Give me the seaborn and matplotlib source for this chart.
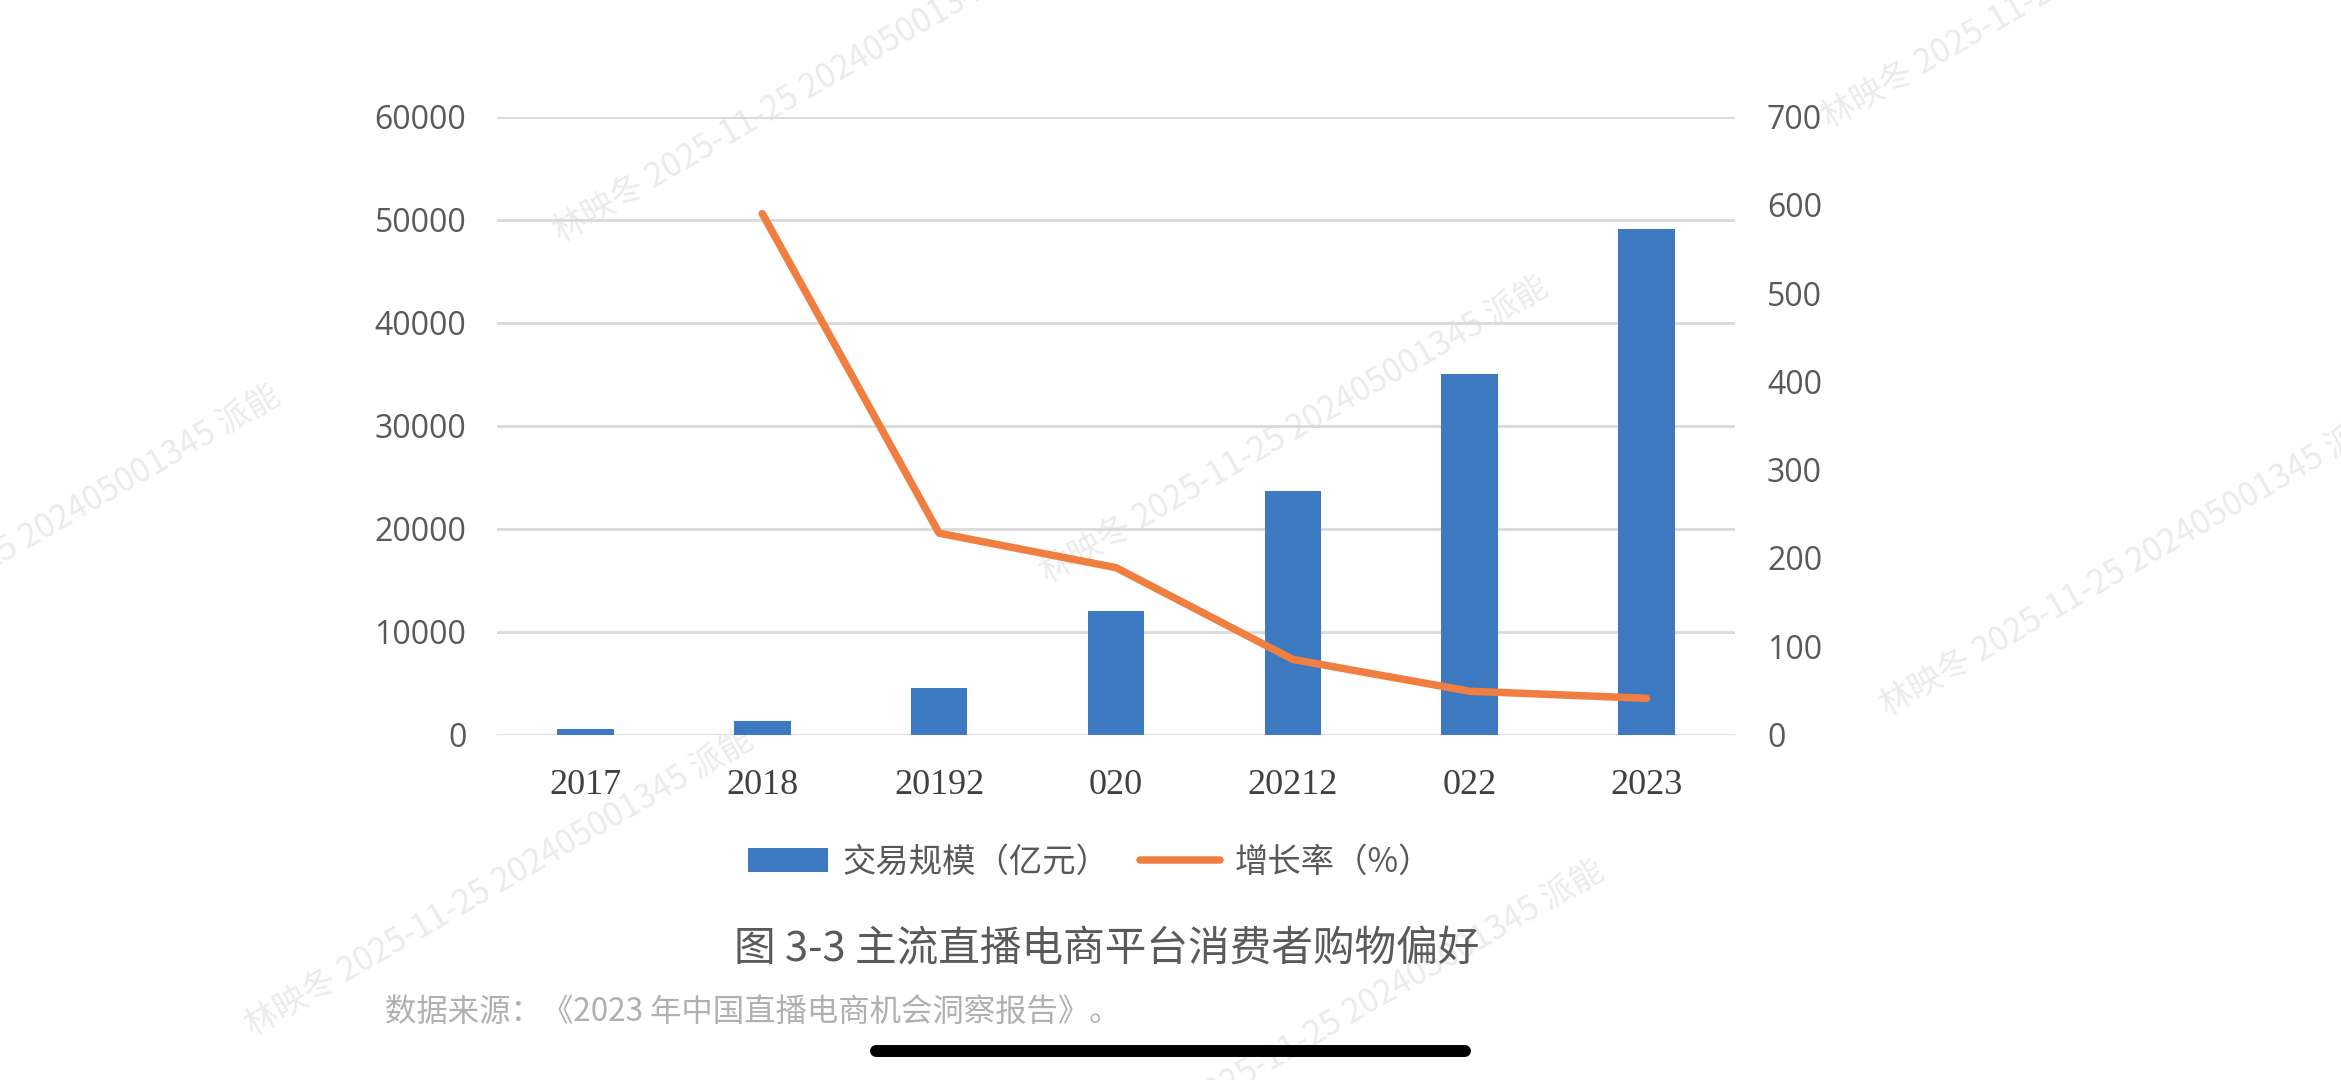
import numpy as np
import pandas as pd
import matplotlib
matplotlib.use("Agg")
import matplotlib.pyplot as plt
import seaborn as sns
from matplotlib.patches import Patch
from matplotlib.lines import Line2D

# ---------------- data ----------------
years = ["2017", "2018", "20192", "020", "20212", "022", "2023"]
trade_scale = [500, 1300, 4500, 12000, 23600, 35000, 49100]      # 交易规模（亿元）
growth_rate = [np.nan, 590, 228, 189, 85, 49, 41]                 # 增长率（%）
left_ticks = [0, 10000, 20000, 30000, 40000, 50000, 60000]
right_ticks = [0, 100, 200, 300, 400, 500, 600, 700]
series_labels = ["交易规模（亿元）", "增长率（%）"]
title_text = "图 3-3 主流直播电商平台消费者购物偏好"
source_text = "数据来源：《2023 年中国直播电商机会洞察报告》。"
watermark_text = "林映冬 2025-11-25 202405001345 派能"

BLUE = "#3C79C0"
ORANGE = "#F07E40"
GRID = "#dadada"
TICK_GREY = "#595959"

sns.set_theme(style="white")
plt.rcParams["font.family"] = ["Noto Sans CJK SC", "DejaVu Sans"]

W, H = 2341, 1080
fig = plt.figure(figsize=(W / 100, H / 100), dpi=100, facecolor="white")

# watermarks (faint, behind chart)
wm_starts = [(560, 242), (1047, 583), (1829, 128), (1887, 716),
             (252, 1036), (-221, 692), (1103, 1167)]
for (px, py) in wm_starts:
    fig.text(px / W, 1 - py / H, watermark_text, rotation=30, rotation_mode="anchor",
             ha="left", va="baseline", color="#ebebeb", fontsize=24, zorder=0)

x0, x1 = 497, 1735
y0, y1 = 116.5, 734.5
ax = fig.add_axes([x0 / W, 1 - y1 / H, (x1 - x0) / W, (y1 - y0) / H], zorder=1)
ax.patch.set_alpha(0)

df = pd.DataFrame({
    "year": years,
    "scale": trade_scale,
    "growth": growth_rate,
    "pos": np.arange(len(years)),
})

sns.barplot(data=df, x="year", y="scale", color=BLUE, saturation=1, width=0.32,
            linewidth=0, ax=ax)
ax.set_ylim(0, 60000)
ax.set_yticks(left_ticks)
ax.set_yticklabels([str(t) for t in left_ticks])
ax.yaxis.grid(True, color=GRID, linewidth=2)
ax.set_axisbelow(True)
for s in ax.spines.values():
    s.set_visible(False)
ax.set_xlabel("")
ax.set_ylabel("")
ax.tick_params(axis="y", length=0, pad=22, labelsize=23, labelcolor=TICK_GREY)
ax.tick_params(axis="x", length=0, pad=25, labelsize=26, labelcolor="#404040")
for lab in ax.get_yticklabels():
    lab.set_fontfamily("Open Sans")
for lab in ax.get_xticklabels():
    lab.set_fontfamily("Liberation Serif")

ax2 = ax.twinx()
sns.lineplot(data=df, x="pos", y="growth", color=ORANGE, linewidth=5.4, ax=ax2,
             solid_capstyle="round", solid_joinstyle="round")
ax2.set_ylim(0, 700)
ax2.set_yticks(right_ticks)
ax2.set_yticklabels([str(t) for t in right_ticks])
ax2.set_ylabel("")
ax2.set_xlabel("")
ax2.grid(False)
for s in ax2.spines.values():
    s.set_visible(False)
ax2.tick_params(axis="y", length=0, pad=23, labelsize=23, labelcolor=TICK_GREY)
for lab in ax2.get_yticklabels():
    lab.set_fontfamily("Open Sans")
ax.set_xlim(-0.5, len(years) - 0.5)
ax.set_xlabel("")

# legend
handles = [Patch(facecolor=BLUE, edgecolor="none", label=series_labels[0]),
           Line2D([0], [0], color=ORANGE, lw=5.4, solid_capstyle="round",
                  label=series_labels[1])]
fig.legend(handles=handles, loc="center", bbox_to_anchor=(1090 / W, 1 - 862 / H),
           ncol=2, frameon=False, fontsize=24, labelcolor=TICK_GREY,
           handlelength=2.4, handleheight=0.7, handletextpad=0.45, columnspacing=0.9)

# title and source
fig.text(1107 / W, 1 - 950 / H, title_text, ha="center", va="center",
         fontsize=30, color="#5a5a5a")
fig.text(385 / W, 1 - 1012 / H, source_text, ha="left", va="center",
         fontsize=22.6, color="#b0b0b0")

# phone home indicator
fig.add_artist(Line2D([876 / W, 1465 / W], [1 - 1051 / H, 1 - 1051 / H],
                      transform=fig.transFigure, color="black", lw=8.6,
                      solid_capstyle="round"))

fig.savefig("out.png", dpi=100, facecolor="white")
